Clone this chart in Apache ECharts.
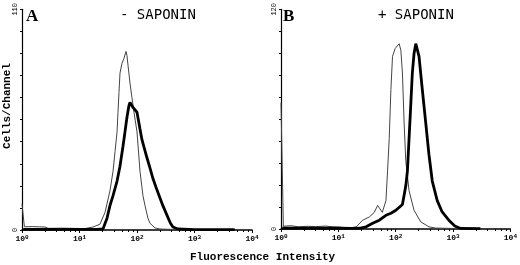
<!DOCTYPE html>
<html><head><meta charset="utf-8">
<script src="https://cdn.jsdelivr.net/npm/echarts@6/dist/echarts.min.js"></script>
<style>html,body{margin:0;padding:0;background:#fff}#c{width:520px;height:265px}</style>
</head><body><div id="c"></div>
<script>
// Panel A (- SAPONIN)
var aThinX = [1, 1.1, 1.5, 2.0, 2.5, 3.0, 5, 8, 12, 17.2, 22.7, 27.8, 33.9, 38.3, 41.5, 45, 46.7, 48.6, 50.6, 54.8, 59.4, 64.4, 66.9, 69.7, 75.5, 81.7, 88.6, 100, 112.7, 127, 137.7, 155, 168, 206, 251, 400, 1000, 3000];
var aThinY = [13, 1.6, 1.7, 1.6, 1.5, 0.6, 0.5, 0.5, 0.6, 1.5, 2.9, 8.8, 19.6, 29.3, 39.1, 48.9, 58.7, 68.5, 78.2, 83.1, 85.6, 89, 87, 82.2, 73.3, 66, 58.7, 48.9, 29.3, 17.1, 12.2, 5.9, 3.4, 1, 0.5, 0.3, 0.2, 0.2];
var aThickX = [1.05, 2, 5, 10, 20, 25.6, 30.1, 33.9, 38.3, 45, 50.6, 57, 61.8, 66.9, 72.5, 75.5, 85.1, 100, 112.7, 122, 149, 168, 190, 222, 251, 283, 333, 380, 422, 516, 1000, 5000];
var aThickY = [0.3, 0.3, 0.4, 0.3, 0.3, 0.5, 5.9, 12.2, 17.1, 24.4, 31.8, 41.6, 48.9, 56.2, 62.1, 63.6, 61.1, 58.7, 50.4, 45, 36, 31, 25.5, 20, 16, 12, 7.3, 3.5, 1.5, 0.5, 0.2, 0.2];
// Panel B (+ SAPONIN)
var bThinX = [1, 1.1, 1.5, 2, 3, 4, 6, 8, 11, 15.7, 20.5, 26.6, 34.8, 42.4, 48.4, 51.8, 58.4, 63.2, 67.6, 72.1, 77.1, 82.5, 88, 98, 115, 123, 131, 140, 150, 171, 209, 273, 380, 497, 1000, 3000];
var bThinY = [69, 1.5, 1.8, 1.2, 1.5, 1.3, 1.6, 1.2, 1.0, 0.5, 1.2, 4.8, 6.6, 9.1, 12.9, 11.9, 9.1, 8.6, 15.5, 31.6, 49.4, 76.2, 94.3, 98.6, 101.2, 97.6, 85.2, 58.4, 37, 20.9, 10.2, 3.9, 1.2, 0.5, 0.3, 0.2];
var bThickX = [1.05, 2, 5, 10, 18, 23.3, 30.5, 39.6, 51.8, 67.6, 82.5, 100.7, 131, 150, 160, 171, 183, 195, 209, 224, 238, 255, 291, 333, 380, 434, 530, 646, 844, 1072, 1362, 3000];
var bThickY = [0.4, 0.4, 0.4, 0.4, 0.3, 0.4, 1.2, 3.1, 4.8, 7.5, 8.6, 10.2, 13.4, 23.6, 31.6, 49.4, 67.5, 85.2, 95.9, 101.2, 100.2, 94.3, 76.2, 58.4, 40.7, 26.2, 15.5, 9.3, 4.8, 1.6, 0.3, 0.2];
var xTickLabels = ['10{s|0}', '10{s|1}', '10{s|2}', '10{s|3}', '10{s|4}'];
var yMaxA = 110, yMaxB = 120;

function pairs(xs, ys) { return xs.map(function (x, i) { return [x, ys[i]]; }); }

var mono = 'Liberation Mono';
function xAxis(idx) {
  return {
    gridIndex: idx, type: 'log', logBase: 10, min: 1, max: 10000,
    axisLine: { lineStyle: { color: '#000', width: 1.5 } },
    axisTick: { length: 3, lineStyle: { color: '#000' } },
    minorTick: { show: true, splitNumber: 6, length: 2, lineStyle: { color: '#000' } },
    splitLine: { show: false },
    axisLabel: {
      margin: 4, color: '#000', fontFamily: mono, fontWeight: 'bold', fontSize: 8,
      formatter: function (v) { return xTickLabels[Math.round(Math.log10(v))]; },
      rich: { s: { fontSize: 6, fontFamily: mono, fontWeight: 'bold', verticalAlign: 'top', padding: [0, 0, 4, 0] } }
    }
  };
}
function yAxis(idx, max) {
  return {
    gridIndex: idx, type: 'value', min: 0, max: max, interval: max / 10,
    axisLine: { show: true, lineStyle: { color: '#000', width: 1.2 } },
    axisTick: { show: true, length: 2, lineStyle: { color: '#000' } },
    splitLine: { show: false },
    axisLabel: {
      rotate: 90, margin: 3, color: '#000', fontFamily: mono, fontSize: 7,
      showMinLabel: true, showMaxLabel: true,
      formatter: function (v) { return (v === 0 || v === max) ? String(v) : ''; }
    }
  };
}
function line(xi, d, w, c) {
  return { type: 'line', xAxisIndex: xi, yAxisIndex: xi, data: d, showSymbol: false, symbol: 'none',
    lineStyle: { color: c, width: w }, silent: true, animation: false };
}

var chart = echarts.init(document.getElementById('c'), null, { renderer: 'canvas' });
chart.setOption({
  animation: false,
  grid: [
    { left: 22, top: 5, width: 230, height: 225 },
    { left: 281, top: 5, width: 231, height: 224 }
  ],
  xAxis: [xAxis(0), xAxis(1)],
  yAxis: [yAxis(0, yMaxA), yAxis(1, yMaxB)],
  series: [
    line(0, pairs(aThinX, aThinY), 1, '#444'),
    line(0, pairs(aThickX, aThickY), 2.8, '#000'),
    line(1, pairs(bThinX, bThinY), 1, '#444'),
    line(1, pairs(bThickX, bThickY), 2.8, '#000')
  ],
  graphic: [
    { type: 'text', left: 26, top: 8, style: { text: 'A', font: 'bold 17px "Liberation Serif"', fill: '#000' } },
    { type: 'text', left: 120, top: 8, style: { text: '- SAPONIN', font: '14px "DejaVu Sans Mono"', fill: '#000' } },
    { type: 'text', left: 283, top: 8, style: { text: 'B', font: 'bold 17px "Liberation Serif"', fill: '#000' } },
    { type: 'text', left: 378, top: 8, style: { text: '+ SAPONIN', font: '14px "DejaVu Sans Mono"', fill: '#000' } },
    { type: 'text', left: 190, top: 252, style: { text: 'Fluorescence Intensity', font: 'bold 11px "Liberation Mono"', fill: '#000' } },
    { type: 'text', x: 7, y: 106, rotation: Math.PI / 2, style: { text: 'Cells/Channel', font: 'bold 11px "Liberation Mono"', fill: '#000', align: 'center', verticalAlign: 'middle' } }
  ]
});
</script></body></html>
